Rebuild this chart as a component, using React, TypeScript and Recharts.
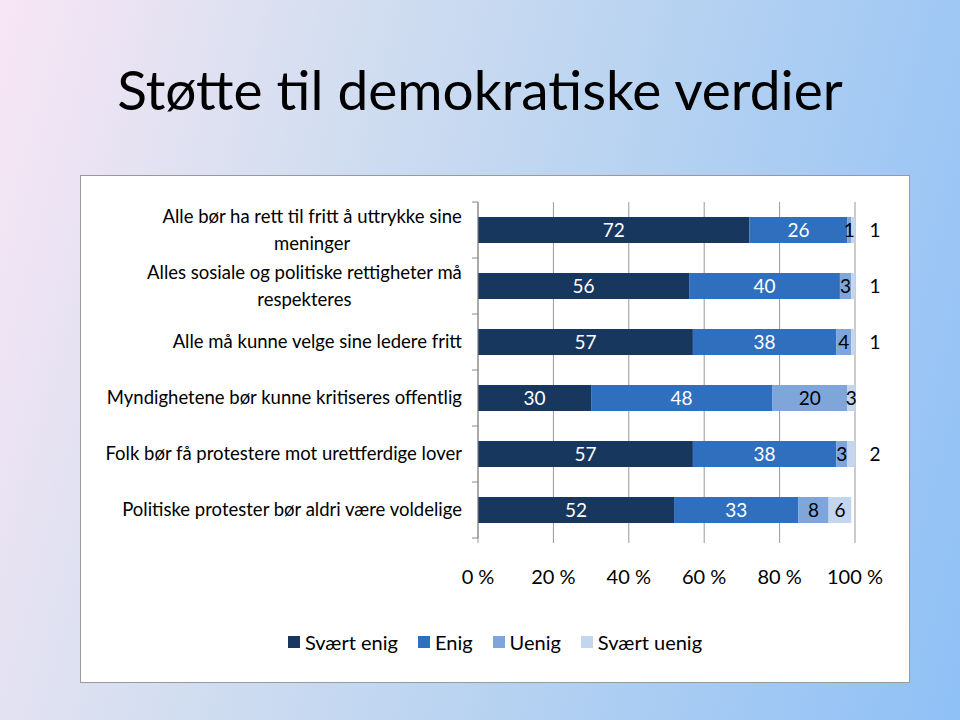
import React from 'react'
import { BarChart, Bar, XAxis, YAxis, CartesianGrid, Legend, LabelList } from 'recharts'

const categories = [
  'Alle bør ha rett til fritt å uttrykke sine meninger',
  'Alles sosiale og politiske rettigheter må respekteres',
  'Alle må kunne velge sine ledere fritt',
  'Myndighetene bør kunne kritiseres offentlig',
  'Folk bør få protestere mot urettferdige lover',
  'Politiske protester bør aldri være voldelige',
]
// how each category label wraps
const categoryLines = [
  ['Alle bør ha rett til fritt å uttrykke sine', 'meninger'],
  ['Alles sosiale og politiske rettigheter må', 'respekteres'],
  ['Alle må kunne velge sine ledere fritt'],
  ['Myndighetene bør kunne kritiseres offentlig'],
  ['Folk bør få protestere mot urettferdige lover'],
  ['Politiske protester bør aldri være voldelige'],
]
const sværtEnig = [72, 56, 57, 30, 57, 52]
const enig = [26, 40, 38, 48, 38, 33]
const uenig = [1, 3, 4, 20, 3, 8]
const sværtUenig = [1, 1, 1, 3, 2, 6]
const xTicks = [0, 20, 40, 60, 80, 100]

const series = [
  { key: 'sværtEnig', name: 'Svært enig', color: '#17375E', text: '#fff' },
  { key: 'enig', name: 'Enig', color: '#2F6FBE', text: '#fff' },
  { key: 'uenig', name: 'Uenig', color: '#7EA6DB', text: '#000' },
  { key: 'sværtUenig', name: 'Svært uenig', color: '#C4D5EE', text: '#000' },
]

const data = categories.map((name, i) => ({
  name,
  sværtEnig: sværtEnig[i],
  enig: enig[i],
  uenig: uenig[i],
  sværtUenig: sværtUenig[i],
}))

const FONT = 'Lato, "Open Sans", sans-serif'

let ctx: CanvasRenderingContext2D | null = null
function measure(text: string, size: number) {
  if (!ctx) ctx = document.createElement('canvas').getContext('2d')
  if (!ctx) return text.length * size * 0.5
  ctx.font = `${size}px Lato`
  return ctx.measureText(text).width
}

const LABEL_SIZE = 18.5

function CategoryTick(props: any) {
  const { x, y, payload, index } = props
  const lines = categoryLines[index] || [String(payload.value)]
  const axisX = x + 8
  const right = x - 8
  const half = payload.offset ?? 28
  const lh = 27
  const widest = Math.max(...lines.map((l) => measure(l, LABEL_SIZE)))
  const cx = right - widest / 2
  const y0 = y - ((lines.length - 1) * lh) / 2
  return (
    <g>
      <line x1={axisX - 6} x2={axisX} y1={y - half} y2={y - half} stroke="#888" />
      {index === categories.length - 1 && (
        <line x1={axisX - 6} x2={axisX} y1={y + half} y2={y + half} stroke="#888" />
      )}
      {lines.map((l, i) => (
        <text
          key={i}
          x={lines.length > 1 ? cx : right}
          y={y0 + i * lh}
          dy="0.35em"
          textAnchor={lines.length > 1 ? 'middle' : 'end'}
          fontSize={LABEL_SIZE}
          fontFamily={FONT}
          fill="#000"
        >
          {l}
        </text>
      ))}
    </g>
  )
}

function makeLabel(color: string, outsideSmall: boolean) {
  return (props: any) => {
    const { x, y, width, height, value } = props
    let lx = x + width / 2
    if (outsideSmall && value <= 2) lx = x + width + 20
    return (
      <text
        x={lx}
        y={y + height / 2}
        dy="0.36em"
        textAnchor="middle"
        fontSize={19}
        fontFamily={FONT}
        fill={color}
      >
        {value}
      </text>
    )
  }
}

function LegendContent() {
  return (
    <div style={{ display: 'flex', justifyContent: 'center', gap: 20, fontFamily: FONT, fontSize: 20 }}>
      {series.map((s) => (
        <div key={s.key} style={{ display: 'flex', alignItems: 'center', gap: 5 }}>
          <span style={{ width: 12, height: 12, background: s.color, display: 'inline-block' }} />
          <span>{s.name}</span>
        </div>
      ))}
    </div>
  )
}

export default function App() {
  return (
    <div
      style={{
        position: 'absolute',
        left: 0,
        top: 0,
        width: 960,
        height: 720,
        overflow: 'hidden',
        background: 'linear-gradient(105deg, #f8e6f5 0%, #d6dff0 28%, #b6d2f1 60%, #8fc0f6 100%)',
        fontFamily: FONT,
      }}
    >
      <div
        style={{
          position: 'absolute',
          top: 56,
          left: 0,
          width: 960,
          textAlign: 'center',
          fontSize: 55,
          lineHeight: '66px',
          color: '#000',
        }}
      >
        Støtte til demokratiske verdier
      </div>
      <div
        style={{
          position: 'absolute',
          left: 80,
          top: 175,
          width: 830,
          height: 508,
          background: '#fff',
          border: '1px solid #9a9a9a',
          boxSizing: 'border-box',
        }}
      >
        <BarChart
          width={828}
          height={506}
          data={data}
          layout="vertical"
          margin={{ top: 26, right: 54, left: 0, bottom: 75 }}
          barSize={26}
        >
          <CartesianGrid horizontal={false} stroke="#999" />
          <XAxis
            type="number"
            domain={[0, 100]}
            allowDataOverflow
            ticks={xTicks}
            tickFormatter={(v) => `${v} %`}
            axisLine={false}
            tickLine={{ stroke: '#999' }}
            tickSize={5}
            tickMargin={27}
            tick={{ fontSize: 20, fontFamily: FONT, fill: '#000' }}
            height={45}
          />
          <YAxis
            type="category"
            dataKey="name"
            width={397}
            axisLine={{ stroke: '#888' }}
            tickLine={false}
            tick={<CategoryTick />}
            interval={0}
          />
          {series.map((s, i) => (
            <Bar key={s.key} dataKey={s.key} name={s.name} stackId="a" fill={s.color} isAnimationActive={false}>
              <LabelList dataKey={s.key} content={makeLabel(s.text, i === 3)} />
            </Bar>
          ))}
          <Legend
            content={<LegendContent />}
            wrapperStyle={{ position: 'absolute', top: 454, left: 0, width: 828 }}
          />
        </BarChart>
      </div>
    </div>
  )
}
